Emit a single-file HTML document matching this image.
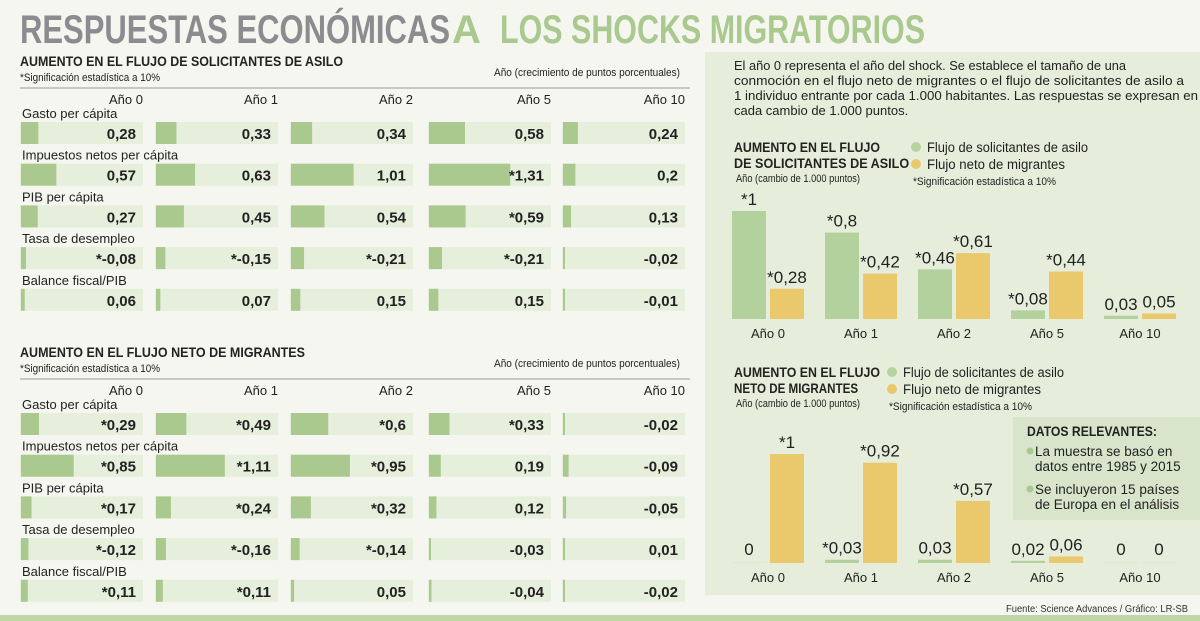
<!DOCTYPE html>
<html><head><meta charset="utf-8"><style>
html,body{margin:0;padding:0;background:#f4f6ef;}
svg{display:block;font-family:"Liberation Sans",sans-serif;}
</style></head><body>
<svg id="c" width="1200" height="621" viewBox="0 0 1200 621" xmlns="http://www.w3.org/2000/svg">
<rect x="0" y="0" width="1200" height="621" fill="#f4f6ef"/>
<text x="20" y="43" font-size="40" font-weight="bold" fill="#8b8b90" textLength="430" lengthAdjust="spacingAndGlyphs">RESPUESTAS ECONÓMICAS</text>
<text x="452" y="43" font-size="40" font-weight="bold" fill="#a9c98f">A</text>
<text x="500" y="43" font-size="40" font-weight="bold" fill="#a9c98f" textLength="425" lengthAdjust="spacingAndGlyphs">LOS SHOCKS MIGRATORIOS</text>
<rect x="705" y="52" width="495" height="543" fill="#e6edda"/>
<rect x="0" y="615" width="1200" height="6" fill="#bfd6a8"/>
<text x="1188" y="612" font-size="10" fill="#333" text-anchor="end" textLength="182" lengthAdjust="spacingAndGlyphs">Fuente: Science Advances  / Gráfico: LR-SB</text>
<g id="tables"></g>
<g id="rp"></g>
</svg>
<script>
const years = ["Año 0","Año 1","Año 2","Año 5","Año 10"];
const rowLabels = ["Gasto per cápita","Impuestos netos per cápita","PIB per cápita","Tasa de desempleo","Balance fiscal/PIB"];
const asiloValues = [
 [0.28,0.33,0.34,0.58,0.24],
 [0.57,0.63,1.01,1.31,0.2],
 [0.27,0.45,0.54,0.59,0.13],
 [-0.08,-0.15,-0.21,-0.21,-0.02],
 [0.06,0.07,0.15,0.15,-0.01]];
const asiloSig = [
 [0,0,0,0,0],[0,0,0,1,0],[0,0,0,1,0],[1,1,1,1,0],[0,0,0,0,0]];
const migrValues = [
 [0.29,0.49,0.6,0.33,-0.02],
 [0.85,1.11,0.95,0.19,-0.09],
 [0.17,0.24,0.32,0.12,-0.05],
 [-0.12,-0.16,-0.14,-0.03,0.01],
 [0.11,0.11,0.05,-0.04,-0.02]];
const migrSig = [
 [1,1,1,1,0],[1,1,1,0,0],[1,1,1,0,0],[1,1,1,0,0],[1,1,0,0,0]];
// bar charts
const chartYears = ["Año 0","Año 1","Año 2","Año 5","Año 10"];
const c1Asilo = [1,0.8,0.46,0.08,0.03];
const c1AsiloSig = [1,1,1,1,0];
const c1Migr = [0.28,0.42,0.61,0.44,0.05];
const c1MigrSig = [1,1,1,1,0];
const c2Asilo = [0,0.03,0.03,0.02,0];
const c2AsiloSig = [0,1,0,0,0];
const c2Migr = [1,0.92,0.57,0.06,0];
const c2MigrSig = [1,1,1,0,0];

const NS="http://www.w3.org/2000/svg";
function mk(tag,attrs,parent,txt){const e=document.createElementNS(NS,tag);for(const k in attrs)e.setAttribute(k,attrs[k]);if(txt!==undefined)e.textContent=txt;parent.appendChild(e);return e;}
function fmt(v){let s=String(v).replace('.',',');return s;}

const colX=[20,155,290,428,562], cellW=123;
const pxPerUnit=62;
function barW(v){return Math.max(2,Math.abs(v)*pxPerUnit);}

function table(g,top,title,titleW,vals,sig,nameBase){
  let t=mk('text',{x:20,y:top,'font-size':14,'font-weight':'bold',fill:'#222',textLength:titleW,lengthAdjust:'spacingAndGlyphs'},g,title);
  
  
  t=mk('text',{x:20,y:top+15,'font-size':11,fill:'#222',textLength:140,lengthAdjust:'spacingAndGlyphs'},g,'*Significación estadística a 10%');
  
  
  t=mk('text',{x:680,y:top+10,'font-size':11,fill:'#222','text-anchor':'end',textLength:186,lengthAdjust:'spacingAndGlyphs'},g,'Año (crecimiento de puntos porcentuales)');
  
  
  let l=mk('line',{x1:20,x2:690,y1:top+22,y2:top+22,stroke:'#999','stroke-width':1},g);
  
  
  years.forEach((y,j)=>{
    const h=mk('text',{x:colX[j]+cellW,y:top+38,'font-size':13,fill:'#222','text-anchor':'end'},g,y);
    
    
  });
  rowLabels.forEach((lab,i)=>{
    const ry=top+52+i*41.7;
    const lt=mk('text',{x:22,y:ry,'font-size':13,fill:'#222'},g,lab);
    
    
    years.forEach((y,j)=>{
      const cy=ry+4;
      const c=mk('rect',{x:colX[j],y:cy,width:cellW,height:22,fill:'#e6eedc'},g);
      
      
      const v=vals[i][j];
      const b=mk('rect',{x:colX[j]+1,y:cy,width:barW(v),height:22,fill:'#a9c98f'},g);
      
      
      const vt=mk('text',{x:colX[j]+cellW-7,y:cy+17,'font-size':15,'font-weight':'bold',fill:'#222','text-anchor':'end'},g,(sig[i][j]?'*':'')+fmt(v));
      
      
    });
  });
}
const tg=document.getElementById('tables');
table(tg,66,'AUMENTO EN EL FLUJO DE  SOLICITANTES DE ASILO',323,asiloValues,asiloSig,'asylum-table');
table(tg,357,'AUMENTO EN EL FLUJO NETO DE MIGRANTES',285,migrValues,migrSig,'migrant-table');

const rp=document.getElementById('rp');
const para=["El año 0 representa el año del shock. Se establece el tamaño de una","conmoción en el flujo neto de migrantes o el flujo de solicitantes de asilo a","1 individuo entrante por cada 1.000 habitantes. Las respuestas se expresan en","cada cambio de 1.000 puntos."];
const paraW=[392,450,464,0];
para.forEach((p,i)=>{
  const a={x:734,y:70+i*15,'font-size':13,fill:'#222'};
  if(paraW[i]){a.textLength=paraW[i];a.lengthAdjust='spacingAndGlyphs';}
  const t=mk('text',a,rp,p);
  
  
});

const groupX=[732,825,918,1011,1104], bw=34, gap=4;
function chart(base,unit,ga,gaSig,ym,ymSig,nameBase,labelY){
  chartYears.forEach((yr,i)=>{
    const x0=groupX[i];
    [[ga,gaSig,'#b3d19c',x0],[ym,ymSig,'#e9c96c',x0+bw+gap]].forEach(([arr,sg,col,x],k)=>{
      const v=arr[i], h=v*unit;
      const r=mk('rect',{x:x,y:base-Math.max(h,v===0?1:h),width:bw,height:Math.max(h,v===0?1:h),fill:v===0?'#dfe8d2':col},rp);
      
      
      const t=mk('text',{x:x+bw/2,y:base-h-(v===0?8:6),'font-size':17,fill:'#222','text-anchor':'middle'},rp,(sg[i]?'*':'')+fmt(v));
      
      
    });
    const lt=mk('text',{x:x0+bw+gap/2,y:labelY,'font-size':13,fill:'#222','text-anchor':'middle'},rp,yr);
    
    
  });
}
function header(l1,l2,y,legX,nameBase){
  let t=mk('text',{x:734,y:y,'font-size':14,'font-weight':'bold',fill:'#222',textLength:146,lengthAdjust:'spacingAndGlyphs'},rp,l1);
  
  
  t=mk('text',{x:734,y:y+16,'font-size':14,'font-weight':'bold',fill:'#222',textLength:l2.length*7.3,lengthAdjust:'spacingAndGlyphs'},rp,l2);
  
  
  t=mk('text',{x:736,y:y+30,'font-size':11,fill:'#222',textLength:124,lengthAdjust:'spacingAndGlyphs'},rp,'Año (cambio de 1.000 puntos)');
  
  
  [['#b7d3a0','Flujo de solicitantes de asilo',0,161],['#e9c96c','Flujo neto de migrantes',17,138]].forEach(([c,s,dy,w],k)=>{
    const d=mk('circle',{cx:legX,cy:y-5+dy,r:5,fill:c},rp);
    
    
    const lt=mk('text',{x:legX+11,y:y+dy,'font-size':13.5,fill:'#222',textLength:w,lengthAdjust:'spacingAndGlyphs'},rp,s);
    
    
  });
  t=mk('text',{x:legX-3,y:y+33,'font-size':11,fill:'#222',textLength:143,lengthAdjust:'spacingAndGlyphs'},rp,'*Significación estadística a 10%');
  
  
}
header('AUMENTO EN EL FLUJO','DE SOLICITANTES DE ASILO',152,916,'asylum-chart');
chart(319,108,c1Asilo,c1AsiloSig,c1Migr,c1MigrSig,'asylum-chart',338);
header('AUMENTO EN EL FLUJO','NETO DE MIGRANTES',377,892,'migrant-chart');

// datos relevantes box
const box=mk('rect',{x:1013,y:417,width:187,height:103,fill:'#d9e5cb'},rp);


let dt=mk('text',{x:1027,y:436,'font-size':14,'font-weight':'bold',fill:'#222',textLength:130,lengthAdjust:'spacingAndGlyphs'},rp,'DATOS RELEVANTES:');


[['La muestra se basó en','datos entre 1985 y 2015',456],['Se incluyeron 15 países','de Europa en el análisis',494]].forEach(([a,b,y])=>{
  const d=mk('circle',{cx:1030,cy:y-5,r:3.5,fill:'#a9c98f'},rp);
  
  
  let t=mk('text',{x:1035,y:y,'font-size':13.5,fill:'#222'},rp,a);
  
  
  t=mk('text',{x:1035,y:y+15,'font-size':13.5,fill:'#222'},rp,b);
  
  
});
chart(563,109,c2Asilo,c2AsiloSig,c2Migr,c2MigrSig,'migrant-chart',582);
</script>
</body></html>
